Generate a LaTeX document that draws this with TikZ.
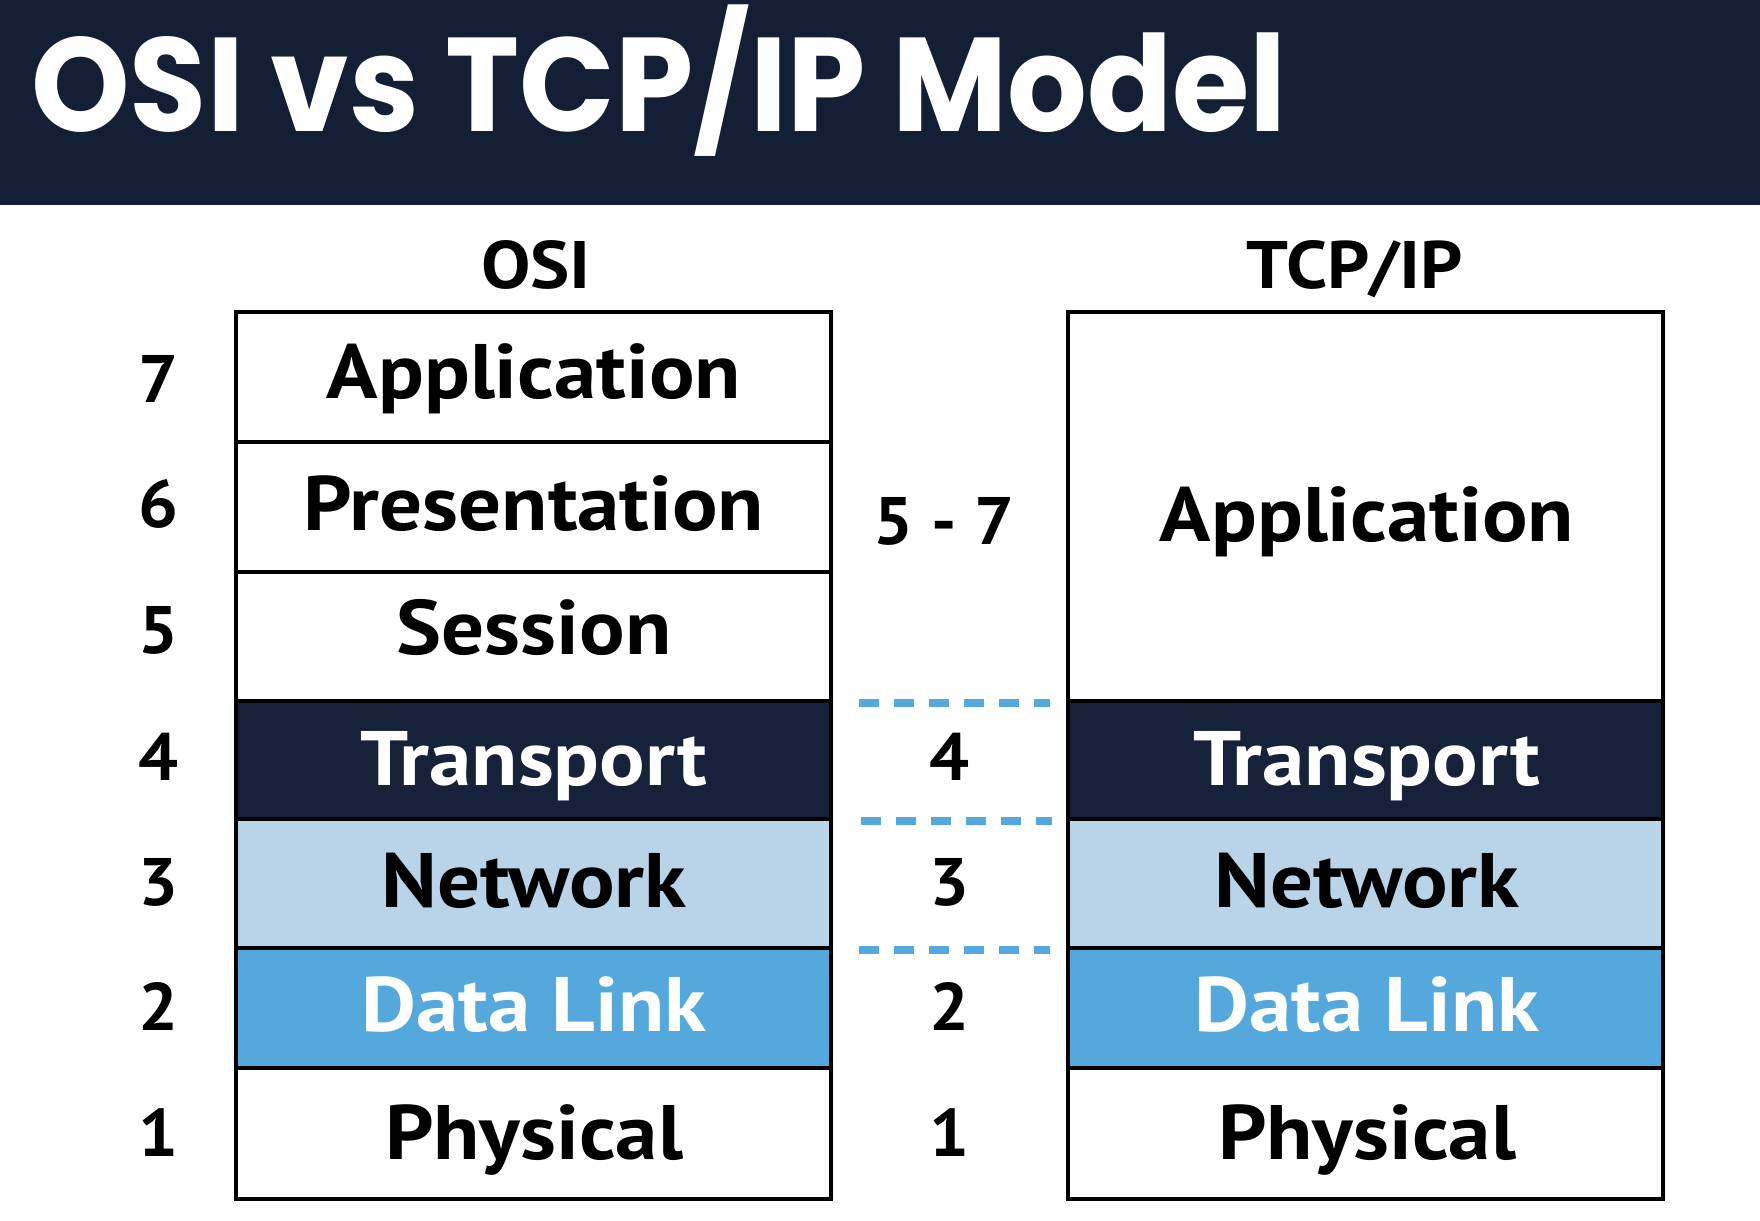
\documentclass[tikz,border=0pt]{standalone}
\usepackage{fontspec}
\setmainfont{PT Sans}[FakeStretch=1.1]
\newfontfamily\numfont{PT Sans}[FakeStretch=1.05]
\newfontfamily\titlefont{Poppins}[FakeStretch=0.94]
\definecolor{navy}{HTML}{131F34}
\definecolor{transp}{HTML}{15223A}
\definecolor{netblue}{HTML}{B9D4E8}
\definecolor{linkblue}{HTML}{55A8DC}
\begin{document}
\begin{tikzpicture}[x=0.5pt,y=-0.5pt,
  layer/.style={draw=black, line width=2pt, inner sep=0pt, minimum width=297.5pt, fill=white},
  lbl/.style={font=\bfseries\fontsize{38.6}{40}\selectfont, anchor=base, inner sep=0pt},
  num/.style={font=\numfont\bfseries\fontsize{33.6}{36}\selectfont, anchor=base, inner sep=0pt},
  sep/.style={draw=linkblue, line width=4pt, dash pattern=on 10pt off 7.5pt}]
\useasboundingbox (0,0) rectangle (1760,1220);
\fill[white] (0,0) rectangle (1760,1220);
\fill[navy] (0,0) rectangle (1760,205);
\node[anchor=base west, inner sep=0pt, text=white, font=\titlefont\bfseries\fontsize{66.7}{70}\selectfont] (title) at (31,132) {OSI vs TCP/IP Model};
% headings
\node[lbl, font=\bfseries\fontsize{33.6}{36}\selectfont] (hosi) at (536,288) {OSI};
\node[lbl, font=\bfseries\fontsize{33.6}{36}\selectfont] (htcp) at (1355,288) {TCP/IP};
% OSI layers
\node[layer, minimum height=65pt] (o7) at (533.5,377) {};
\node[layer, minimum height=65pt] (o6) at (533.5,507) {};
\node[layer, minimum height=64.5pt] (o5) at (533.5,636.5) {};
\node[layer, minimum height=59pt, fill=transp] (o4) at (533.5,760) {};
\node[layer, minimum height=64.5pt, fill=netblue] (o3) at (533.5,883.5) {};
\node[layer, minimum height=60pt, fill=linkblue] (o2) at (533.5,1008) {};
\node[layer, minimum height=65.5pt] (o1) at (533.5,1133.5) {};
% TCP/IP layers
\node[layer, minimum height=194.5pt] (t4) at (1365.5,506.5) {};
\node[layer, minimum height=59pt, fill=transp] (t3) at (1365.5,760) {};
\node[layer, minimum height=64.5pt, fill=netblue] (t2) at (1365.5,883.5) {};
\node[layer, minimum height=60pt, fill=linkblue] (t1) at (1365.5,1008) {};
\node[layer, minimum height=65.5pt] (t0) at (1365.5,1133.5) {};
% OSI labels
\node[lbl] (lo7) at (534,398) {Application};
\node[lbl] (lo6) at (534,530) {Presentation};
\node[lbl] (lo5) at (534,654) {Session};
\node[lbl, text=white] (lo4) at (534,785) {Transport};
\node[lbl] (lo3) at (534,907) {Network};
\node[lbl, text=white] (lo2) at (534,1031) {Data Link};
\node[lbl] (lo1) at (534,1159) {Physical};
% TCP labels
\node[lbl] (lt4) at (1367,541) {Application};
\node[lbl, text=white] (lt3) at (1367,785) {Transport};
\node[lbl] (lt2) at (1367,907) {Network};
\node[lbl, text=white] (lt1) at (1367,1031) {Data Link};
\node[lbl] (lt0) at (1367,1159) {Physical};
% left numbers
\node[num] (n7) at (159,402) {7};
\node[num] (n6) at (159,527) {6};
\node[num] (n5) at (159,653) {5};
\node[num] (n4) at (159,780) {4};
\node[num] (n3) at (159,905) {3};
\node[num] (n2) at (159,1030) {2};
\node[num] (n1) at (159,1156) {1};
% middle numbers
\node[num] (m57) at (944,544) {5 - 7};
\node[num] (m4) at (949,780) {4};
\node[num] (m3) at (949,905) {3};
\node[num] (m2) at (949,1030) {2};
\node[num] (m1) at (949,1156) {1};
% separators
\draw[sep, shorten <=13pt, shorten >=8pt] (o5.south east) -- (t4.south west);
\draw[sep, shorten <=14pt, shorten >=7pt] (o4.south east) -- (t3.south west);
\draw[sep, shorten <=13pt, shorten >=8pt] (o3.south east) -- (t2.south west);
\end{tikzpicture}
\end{document}
